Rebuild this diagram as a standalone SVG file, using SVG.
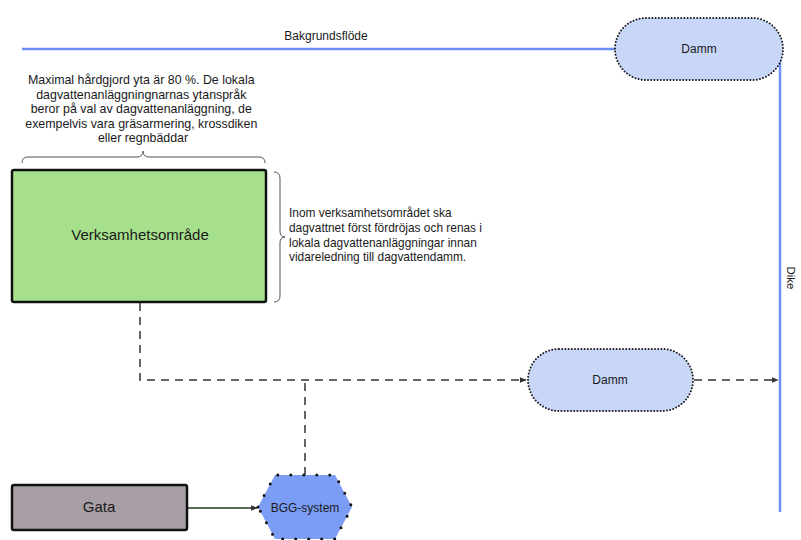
<svg xmlns="http://www.w3.org/2000/svg" width="801" height="540" viewBox="0 0 801 540">
<defs>
<style>
text{font-family:"Liberation Sans",Arial,sans-serif;fill:#1a1a1a}
.blue{stroke:#6d8ff2;stroke-width:2.5;fill:none}
.dash{stroke:#333;stroke-width:1.5;fill:none;stroke-dasharray:8 6}
.brace{stroke:#555;stroke-width:1;fill:none}
.damm{fill:#c8d6f8;stroke:#1a1a1a;stroke-width:2;stroke-dasharray:0 3.2;stroke-linecap:round}
.box{stroke:#111;stroke-width:2.5}
</style>
<marker id="ah" viewBox="0 0 10 10" refX="9" refY="5" markerWidth="7" markerHeight="7" markerUnits="userSpaceOnUse" orient="auto">
<path d="M0,1 L10,5 L0,9 Z" fill="#333"/>
</marker>
</defs>
<rect width="801" height="540" fill="#fff"/>
<g id="connectors">
<line class="blue" x1="22" y1="49" x2="615" y2="49"/>
<line class="blue" x1="780" y1="57" x2="780" y2="512"/>
<text x="326" y="40" font-size="12" text-anchor="middle">Bakgrundsflöde</text>
<text x="787" y="278" font-size="11.5" text-anchor="middle" transform="rotate(90 787 278)">Dike</text>
<path class="dash" d="M140,303 L140,380 L526,380" marker-end="url(#ah)"/>
<path class="dash" d="M305,475 L305,381"/>
<path class="dash" d="M694,380 L778,380" marker-end="url(#ah)"/>
<line x1="188" y1="508" x2="257" y2="508" stroke="#1f3a1f" stroke-width="1.5" marker-end="url(#ah)"/>
</g>
<g id="note-top">
<text font-size="12.4" text-anchor="middle">
<tspan x="143" y="84">Maximal hårdgjord yta är 80 %. De lokala</tspan>
<tspan x="143" y="98.5">dagvattenanläggningnarnas ytanspråk</tspan>
<tspan x="143" y="113">beror på val av dagvattenanläggning, de</tspan>
<tspan x="143" y="127.5">exempelvis vara gräsarmering, krossdiken</tspan>
<tspan x="143" y="142">eller regnbäddar</tspan>
</text>
<path class="brace" d="M22,163 Q22,157 28,157 L137,157 Q143,157 143,151 Q143,157 149,157 L259,157 Q265,157 265,163"/>
</g>
<g id="note-right">
<path class="brace" d="M274,172 Q280,172 280,178 L280,231 Q280,237 285,237 Q280,237 280,243 L280,296 Q280,302 274,302"/>
<text font-size="11.9">
<tspan x="289" y="217">Inom verksamhetsområdet ska</tspan>
<tspan x="289" y="232">dagvattnet först fördröjas och renas i</tspan>
<tspan x="289" y="246.5">lokala dagvattenanläggningar innan</tspan>
<tspan x="289" y="261">vidareledning till dagvattendamm.</tspan>
</text>
</g>
<g id="verksamhetsomrade">
<rect class="box" x="12" y="170" width="254" height="132" rx="2" fill="#a6e08c"/>
<text x="140" y="240" font-size="15" text-anchor="middle">Verksamhetsområde</text>
</g>
<g id="damm-top">
<rect class="damm" x="615" y="18" width="168" height="62" rx="31"/>
<text x="699" y="53" font-size="12" text-anchor="middle">Damm</text>
</g>
<g id="damm-mid">
<rect class="damm" x="528" y="349" width="165" height="62" rx="31"/>
<text x="610" y="384" font-size="12" text-anchor="middle">Damm</text>
</g>
<g id="gata">
<rect class="box" x="12" y="485" width="175" height="45" rx="2" fill="#a89fa6"/>
<text x="99" y="512" font-size="15" text-anchor="middle">Gata</text>
</g>
<g id="bgg-system">
<polygon points="258,507 275,475 335,475 352,507 335,539 275,539" fill="#7b9df6" stroke="#111" stroke-width="3" stroke-dasharray="0 13" stroke-linecap="round"/>
<text x="305" y="512" font-size="12" text-anchor="middle">BGG-system</text>
</g>
</svg>
